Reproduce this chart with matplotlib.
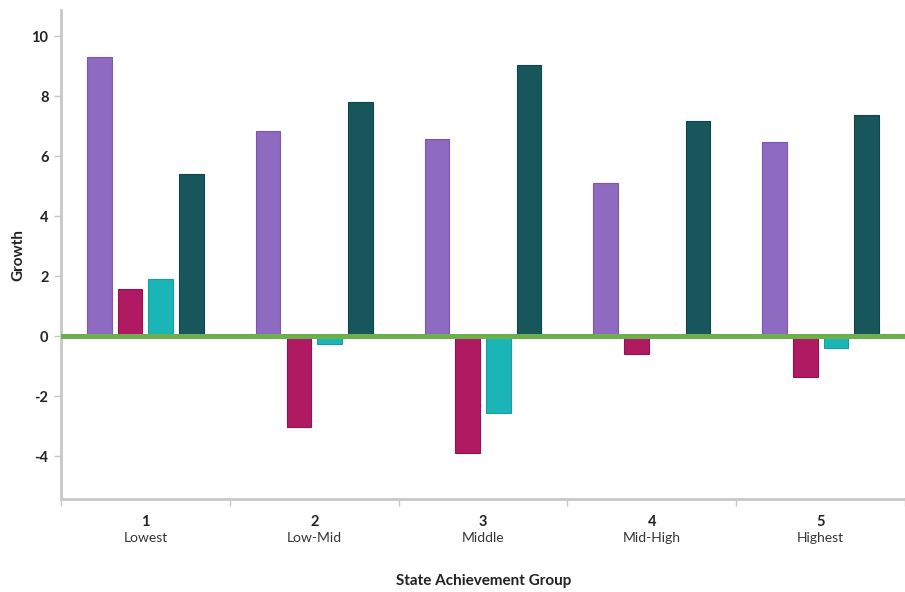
import matplotlib
matplotlib.use("Agg")
import matplotlib.pyplot as plt
from matplotlib.transforms import blended_transform_factory
import numpy as np

plt.rcParams['font.family'] = ['Lato', 'DejaVu Sans']

group_numbers = ["1", "2", "3", "4", "5"]
group_names = ["Lowest", "Low-Mid", "Middle", "Mid-High", "Highest"]

series_a = [9.3, 6.83, 6.57, 5.1, 6.47]
series_b = [1.57, -3.03, -3.9, -0.6, -1.37]
series_c = [1.9, -0.27, -2.57, -0.07, -0.4]
series_d = [5.4, 7.8, 9.03, 7.17, 7.37]

series = [series_a, series_b, series_c, series_d]
fills = ["#8e6bc0", "#b01a62", "#1bb5b8", "#17575c"]
edges = ["#7a58ad", "#96124f", "#14a0a3", "#0f4448"]

fig = plt.figure(figsize=(9.05, 5.92), dpi=100)
ax = fig.add_axes([0.0674, 0.157, 1 - 0.0674, 0.983 - 0.157])

x = np.arange(len(group_numbers))
step = 0.182
width = 0.146
for i, (vals, fc, ec) in enumerate(zip(series, fills, edges)):
    ax.bar(x + (i - 1.5) * step, vals, width=width, color=fc,
           edgecolor=ec, linewidth=0.8, zorder=2)

ax.axhline(0, color="#6cb04e", lw=3.6, zorder=4)

ax.set_xlim(-0.5, 4.45)
ax.set_ylim(-5.43, 10.87)

ax.set_yticks([-4, -2, 0, 2, 4, 6, 8, 10])
ax.set_yticklabels(["-4", "-2", "0", "2", "4", "6", "8", "10"],
                   fontweight="bold", fontsize=10.5, color="#222222")
ax.tick_params(axis="y", length=5, width=1, color="#c8c8c8", pad=4)

ax.set_xticks(np.arange(-0.5, 4.6, 1.0))
ax.set_xticklabels([])
ax.tick_params(axis="x", length=5, width=1, color="#c8c8c8")

for s in ["top", "right"]:
    ax.spines[s].set_visible(False)
for s in ["left", "bottom"]:
    ax.spines[s].set_color("#c8c8c8")
    ax.spines[s].set_linewidth(2)

tr = blended_transform_factory(ax.transData, ax.transAxes)
for xi, num, name in zip(x, group_numbers, group_names):
    ax.text(xi, -0.033, num, transform=tr, ha="center", va="top",
            fontsize=10.5, fontweight="bold", color="#222222")
    ax.text(xi, -0.068, name, transform=tr, ha="center", va="top",
            fontsize=10, color="#333333")

fig.text(18 / 905, 1 - 255 / 592, "Growth", rotation=90, ha="center",
         va="center", fontsize=11, fontweight="bold", color="#222222")
fig.text(484 / 905, 1 - 581 / 592, "State Achievement Group", ha="center",
         va="center", fontsize=11, fontweight="bold", color="#222222")

fig.savefig("out.png", dpi=100, facecolor="white")
